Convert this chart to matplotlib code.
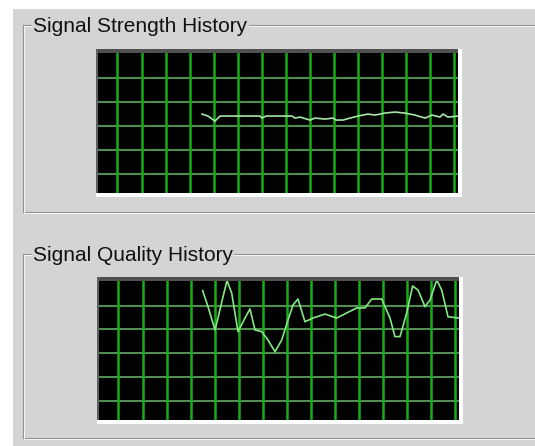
import matplotlib
matplotlib.use("Agg")
import matplotlib.pyplot as plt
from matplotlib.patches import Rectangle

# signal strength history (time in s, level in %)
strength_t = [17.45, 18.45, 19.61, 20.44, 27.09, 27.42, 28.09, 32.41, 32.91, 33.74,
              35.40, 36.23, 37.89, 39.22, 39.72, 40.89, 42.05, 43.38, 45.04, 46.20,
              47.87, 49.53, 51.19, 52.85, 54.52, 55.68, 57.01, 57.51, 58.34, 60.0]
strength_v = [55.2, 53.8, 50.3, 53.8, 53.8, 52.4, 53.8, 53.8, 52.4, 53.1,
              51.0, 52.4, 51.7, 52.4, 51.0, 51.0, 52.4, 53.8, 55.2, 54.5,
              55.9, 56.6, 55.9, 54.5, 52.4, 54.5, 53.1, 55.2, 53.1, 53.8]

# signal quality history
quality_t = [17.40, 18.28, 19.45, 19.94, 20.78, 21.44, 22.22, 23.27, 24.43, 25.26,
             26.09, 27.21, 28.25, 29.42, 30.53, 31.58, 32.41, 33.24, 34.40, 35.73,
             37.73, 39.67, 41.34, 43.00, 44.38, 45.49, 47.15, 48.53, 49.36, 50.19,
             51.31, 52.30, 53.19, 54.35, 55.18, 56.30, 57.13, 58.17, 60.0]
quality_v = [91.1, 79.8, 63.4, 71.8, 86.8, 98.1, 89.4, 62.2, 71.8, 78.2,
             63.4, 62.2, 56.3, 48.1, 56.3, 70.4, 81.0, 85.2, 69.2, 71.8,
             74.6, 71.8, 75.4, 78.9, 78.9, 85.2, 85.2, 71.8, 58.7, 58.7,
             75.4, 94.4, 91.5, 79.8, 84.5, 98.6, 91.5, 72.7, 71.8]

titles = ["Signal Strength History", "Signal Quality History"]
line_colors = ["#a6e6a6", "#84e884"]

W, H = 535, 446
BG = "#d4d4d4"

fig = plt.figure(figsize=(W / 100, H / 100), dpi=100)
fig.patch.set_facecolor(BG)

bg = fig.add_axes([0, 0, 1, 1])
bg.set_xlim(0, W)
bg.set_ylim(H, 0)
bg.axis("off")

# white margin of the screenshot
bg.add_patch(Rectangle((0, 0), 13, H, color="white", lw=0))
bg.add_patch(Rectangle((0, 0), W, 9, color="white", lw=0))

# group boxes: (left, top, bottom), plot boxes: (x0, y0, x1, y1)
groups = [(23, 25, 212), (23, 254, 438)]
boxes = [(97, 50, 458, 193), (98, 278, 459, 420)]

for (gx, gy, gb), title in zip(groups, titles):
    for off, col in [(0, "#8e8e8e"), (1, "#f4f4f4")]:
        bg.plot([gx + off, W + 5], [gy + off, gy + off], color=col, lw=0.8)
        bg.plot([gx + off, W + 5], [gb + off, gb + off], color=col, lw=0.8)
        bg.plot([gx + off, gx + off], [gy + off, gb + off], color=col, lw=0.8)
    bg.text(33, gy + 7, title, fontsize=15, family="Liberation Sans",
            color="#101010", va="baseline", ha="left",
            bbox=dict(facecolor=BG, edgecolor="none", pad=1.0))

series = [(strength_t, strength_v), (quality_t, quality_v)]

for (x0, y0, x1, y1), (t, v), lc in zip(boxes, series, line_colors):
    # sunken 3d border
    bg.add_patch(Rectangle((x0 - 1, y1), x1 - x0 + 5, 3.5, color="white", lw=0))
    bg.add_patch(Rectangle((x1, y0 - 1), 4, y1 - y0 + 4, color="white", lw=0))
    ax = fig.add_axes([x0 / W, 1 - y1 / H, (x1 - x0) / W, (y1 - y0) / H])
    ax.set_facecolor("black")
    ax.set_xlim(0, 60)
    ax.set_ylim(0, 100)
    ax.set_xticks([])
    ax.set_yticks([])
    for s in ax.spines.values():
        s.set_visible(False)
    for k in range(5):
        ax.axhline(13.4 + 16.8 * k, color="#528e52", lw=1.5, zorder=1)
    for k in range(15):
        ax.axvline(3.4 + 4.0 * k, color="#18ad18", lw=1.8, zorder=2)
    ax.plot(t, v, color=lc, lw=1.2, zorder=3, clip_on=True)
    bg.add_patch(Rectangle((x0, y0 - 1), x1 - x0, 4, color="#505050", lw=0, zorder=5))
    bg.add_patch(Rectangle((x0 - 1, y0 - 1), 2, y1 - y0 + 1, color="#606060", lw=0, zorder=5))

bg.set_zorder(10)
bg.patch.set_visible(False)

fig.savefig("out.png", dpi=100, facecolor=BG)
